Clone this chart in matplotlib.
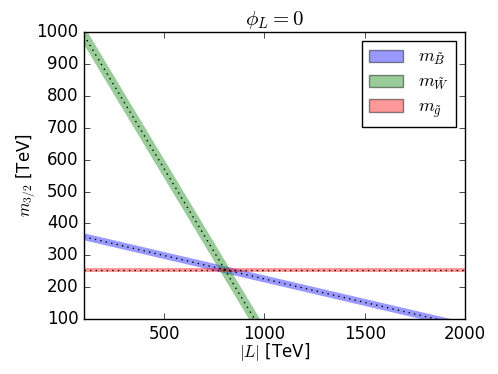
import numpy as np
import matplotlib
matplotlib.use("Agg")
import matplotlib.pyplot as plt

plt.style.use('classic')
plt.rcParams['figure.facecolor'] = 'white'
plt.rcParams['savefig.facecolor'] = 'white'

# |L| range [TeV]
L_range = [100, 2000]
# centre lines: m_{3/2} at |L|=100 and slope (TeV per TeV)
bino_at100, bino_slope, bino_halfwidth = 358.0, -0.147, 11.0
wino_at100, wino_slope, wino_halfwidth = 990.0, -1.047, 29.0
gluino_level, gluino_halfwidth = 254.0, 6.0

labels = [r'$m_{\tilde{B}}$', r'$m_{\tilde{W}}$', r'$m_{\tilde{g}}$']
colors = ['blue', 'green', 'red']

L = np.linspace(L_range[0], L_range[1], 400)
bino = bino_at100 + bino_slope * (L - 100)
wino = wino_at100 + wino_slope * (L - 100)
gluino = np.full_like(L, gluino_level)

fig = plt.figure(figsize=(4.98, 3.74), dpi=100)
ax = fig.add_axes([0.1687, 0.147, 0.765, 0.767])

for c, hw, lab, col in [(bino, bino_halfwidth, labels[0], colors[0]),
                        (wino, wino_halfwidth, labels[1], colors[1]),
                        (gluino, gluino_halfwidth, labels[2], colors[2])]:
    ax.fill_between(L, c - hw, c + hw, facecolor=col, edgecolor='none', alpha=0.4, label=lab)
for c in [bino, wino, gluino]:
    ax.plot(L, c, 'k:', lw=1)

ax.set_xlim(100, 2000)
ax.set_ylim(100, 1000)
ax.set_xticks([500, 1000, 1500, 2000])
ax.set_yticks(np.arange(100, 1001, 100))
ax.tick_params(labelsize=12)
ax.set_xlabel(r'$|L|$ [TeV]', fontsize=12, labelpad=-1)
ax.set_ylabel(r'$m_{3/2}$ [TeV]', fontsize=12, labelpad=-1)
ax.set_title(r'$\phi_L = 0$', fontsize=15)

leg = ax.legend(loc='upper right', fontsize=13, borderpad=0.4, labelspacing=0.3,
                handlelength=1.9, handletextpad=0.8, borderaxespad=0.5)
for p in leg.get_patches():
    p.set_edgecolor((0, 0, 0, 0.45))

fig.savefig('out.png', dpi=100)
